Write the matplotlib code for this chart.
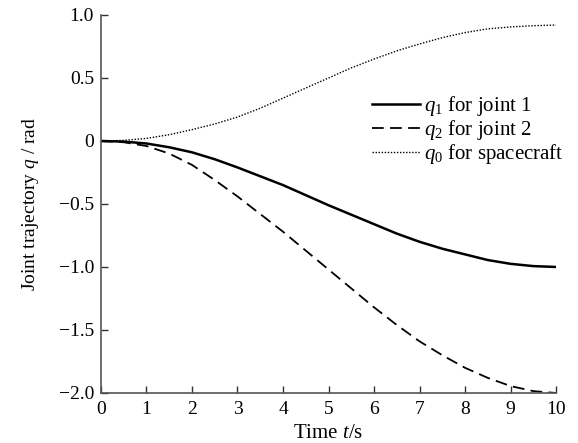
import numpy as np
import matplotlib
matplotlib.use("Agg")
import matplotlib.pyplot as plt

plt.rcParams['font.family'] = ['Liberation Serif', 'DejaVu Serif']
plt.rcParams['mathtext.fontset'] = 'custom'
plt.rcParams['mathtext.rm'] = 'Liberation Serif'
plt.rcParams['mathtext.it'] = 'Liberation Serif:italic'

# joint trajectories, sampled every 0.5 s
t = [0, 0.5, 1, 1.5, 2, 2.5, 3, 3.5, 4, 4.5, 5,
     5.5, 6, 6.5, 7, 7.5, 8, 8.5, 9, 9.5, 10]
q1 = [0, -0.005, -0.02, -0.05, -0.09, -0.145, -0.21, -0.28, -0.35, -0.43, -0.51,
      -0.585, -0.66, -0.735, -0.80, -0.855, -0.90, -0.945, -0.975, -0.993, -1.0]
q2 = [0, -0.01, -0.04, -0.10, -0.19, -0.31, -0.44, -0.58, -0.72, -0.87, -1.02,
      -1.17, -1.32, -1.46, -1.59, -1.70, -1.80, -1.88, -1.945, -1.985, -2.0]
q0 = [0, 0.005, 0.02, 0.05, 0.09, 0.135, 0.19, 0.26, 0.34, 0.42, 0.50,
      0.58, 0.65, 0.715, 0.77, 0.82, 0.86, 0.89, 0.905, 0.915, 0.92]

xticks = list(range(0, 11))
yticks = [-2.0, -1.5, -1.0, -0.5, 0, 0.5, 1.0]
ylabels = ['\u22122.0', '\u22121.5', '\u22121.0', '\u22120.5', '0', '0.5', '1.0']

fig = plt.figure(figsize=(5.78, 4.43), dpi=100)
ax = fig.add_axes([0.1747, 0.1129, 0.7873, 0.8533])

ax.plot(t, q1, color='black', lw=1.8, label=r'$q_1$ for joint 1')
ax.plot(t, q2, color='black', lw=1.3, ls=(0, (6.5, 3.5)), label=r'$q_2$ for joint 2')
ax.plot(t, q0, color='black', lw=1.0, ls=(0, (1, 1.2)), label=r'$q_0$ for spacecraft')

ax.set_xlim(0, 10)
ax.set_ylim(-2.0, 1.0)
ax.set_xticks(xticks)
ax.set_yticks(yticks)
ax.set_yticklabels(ylabels)
ax.tick_params(direction='in', length=5, width=1, colors='#333333',
               labelsize=14, labelcolor='black')
ax.tick_params(axis='x', pad=6)
ax.tick_params(axis='y', pad=5)

for s in ['top', 'right']:
    ax.spines[s].set_visible(False)
for s in ['left', 'bottom']:
    ax.spines[s].set_color('#555555')
    ax.spines[s].set_linewidth(1.2)

ax.set_xlabel(r'Time $t$/s', fontsize=15, labelpad=4)
ax.set_ylabel(r'Joint trajectory $q$ / rad', fontsize=14, labelpad=13)

ax.legend(loc='upper left', bbox_to_anchor=(0.555, 0.84), frameon=False,
          fontsize=15, handlelength=2.3, handletextpad=0.2, labelspacing=0.0)

fig.savefig('out.png', dpi=100)
